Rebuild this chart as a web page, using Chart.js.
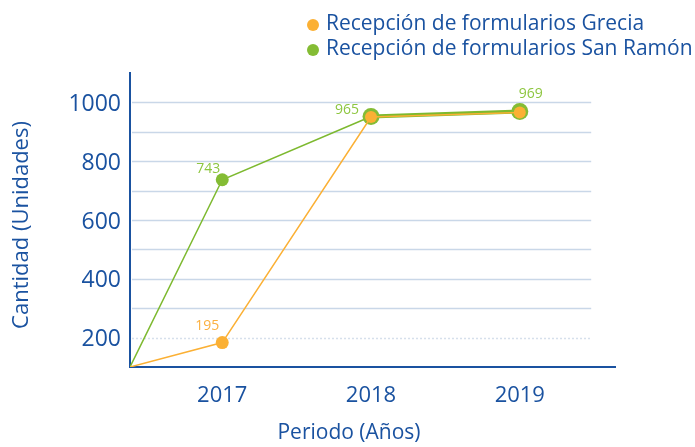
<!DOCTYPE html>
<html>
<head>
<meta charset="utf-8">
<script src="https://cdn.jsdelivr.net/npm/chart.js@4"></script>
<style>
  body { margin: 0; background: #fff; }
  #wrap { width: 695px; height: 447px; }
</style>
</head>
<body>
<div id="wrap"><canvas id="chart" width="695" height="447"></canvas></div>
<script>
// Data
const years = [2016.38, 2017, 2018, 2019];
const yearTicks = [2017, 2018, 2019];
const grecia = [100, 183, 950, 966];
const sanRamon = [100, 737, 952, 969];
const greciaLabels = ['', '195', '', ''];
const sanRamonLabels = ['', '743', '965', '969'];
const yTicks = [200, 400, 600, 800, 1000];
const gridValues = [200, 300, 400, 500, 600, 700, 800, 900, 1000];
const seriesNames = ['Recepción de formularios Grecia', 'Recepción de formularios San Ramón'];

const blue = '#1a52a0';
const orange = '#fbb034';
const green = '#7db92f';
const font = '"Open Sans", sans-serif';

// Horizontal grid lines (they stop short of the x axis end)
const gridPlugin = {
  id: 'grid',
  beforeDatasetsDraw(chart) {
    const c = chart.ctx, y = chart.scales.y, x = chart.scales.x;
    const right = x.getPixelForValue(2019.48);
    c.save();
    gridValues.forEach(v => {
      const py = Math.round(y.getPixelForValue(v)) + 0.5;
      c.beginPath();
      c.lineWidth = 1.5;
      if (v === 200) { c.setLineDash([2, 2]); c.strokeStyle = '#d6e0ec'; }
      else { c.setLineDash([]); c.strokeStyle = '#c9d7e8'; }
      c.moveTo(chart.chartArea.left + 2, py);
      c.lineTo(right, py);
      c.stroke();
    });
    c.restore();
  }
};

// Value labels, legend and axis titles
const textPlugin = {
  id: 'texts',
  afterDatasetsDraw(chart) {
    const c = chart.ctx;
    c.save();
    c.font = '14px ' + font;
    c.textAlign = 'center';
    c.textBaseline = 'middle';
    const offsets = [null, [-14, -11], [-24, -6], [11, -17]];
    const sets = [[greciaLabels, 0, '#fbb040'], [sanRamonLabels, 1, '#8dc63f']];
    sets.forEach(([labels, di, col]) => {
      const meta = chart.getDatasetMeta(di);
      labels.forEach((t, i) => {
        if (!t) return;
        const p = meta.data[i];
        let off = offsets[i];
        if (di === 0 && i === 1) off = [-15, -17];
        c.fillStyle = col;
        c.fillText(t, p.x + off[0], p.y + off[1]);
      });
    });

    // legend
    c.textAlign = 'left';
    c.font = '21px ' + font;
    [[orange, 24], ['#84bc34', 49]].forEach(([col, ly], i) => {
      c.beginPath();
      c.fillStyle = col;
      c.arc(313, ly + 1, 6, 0, Math.PI * 2);
      c.fill();
      c.fillStyle = blue;
      c.fillText(seriesNames[i], 326, ly);
    });

    // axis titles
    c.font = '21px ' + font;
    c.textAlign = 'center';
    c.fillText('Periodo (Años)', 349, 433);
    c.font = '22px ' + font;
    c.translate(22, 225);
    c.rotate(-Math.PI / 2);
    c.fillText('Cantidad (Unidades)', 0, 0);
    c.restore();
  }
};

new Chart(document.getElementById('chart'), {
  type: 'line',
  data: {
    datasets: [
      {
        label: seriesNames[0],
        data: years.map((x, i) => ({ x, y: grecia[i] })),
        borderColor: orange,
        backgroundColor: orange,
        borderWidth: 1.5,
        pointRadius: [0, 6.5, 6, 6],
        pointBorderWidth: 0,
        pointBackgroundColor: orange,
        tension: 0,
        order: 0
      },
      {
        label: seriesNames[1],
        data: years.map((x, i) => ({ x, y: sanRamon[i] })),
        borderColor: green,
        backgroundColor: green,
        borderWidth: 1.5,
        segment: { borderWidth: ctx => ctx.p1DataIndex === 3 ? 4 : 1.5 },
        pointRadius: [0, 6.5, 8.5, 8.5],
        pointBorderWidth: 0,
        pointBackgroundColor: '#84bc34',
        tension: 0,
        order: 1
      }
    ]
  },
  options: {
    responsive: false,
    animation: false,
    layout: { padding: { left: 0, right: 80, top: 73, bottom: 0 } },
    plugins: { legend: { display: false }, tooltip: { enabled: false } },
    scales: {
      x: {
        type: 'linear',
        min: 2016.38,
        max: 2019.64,
        afterBuildTicks: s => { s.ticks = yearTicks.map(v => ({ value: v })); },
        afterFit: s => { s.height = 80; },
        grid: { display: false, drawTicks: false },
        border: { color: blue, width: 2 },
        ticks: { color: blue, font: { family: font, size: 22 }, padding: 16, callback: v => String(v) }
      },
      y: {
        min: 100,
        max: 1100,
        afterBuildTicks: s => { s.ticks = yTicks.map(v => ({ value: v })); },
        afterFit: s => { s.width = 130; },
        grid: { display: false, drawTicks: false },
        border: { color: blue, width: 2 },
        ticks: { color: blue, font: { family: font, size: 23 }, padding: 9, labelOffset: 2, callback: v => String(v) }
      }
    }
  },
  plugins: [gridPlugin, textPlugin]
});
</script>
</body>
</html>
